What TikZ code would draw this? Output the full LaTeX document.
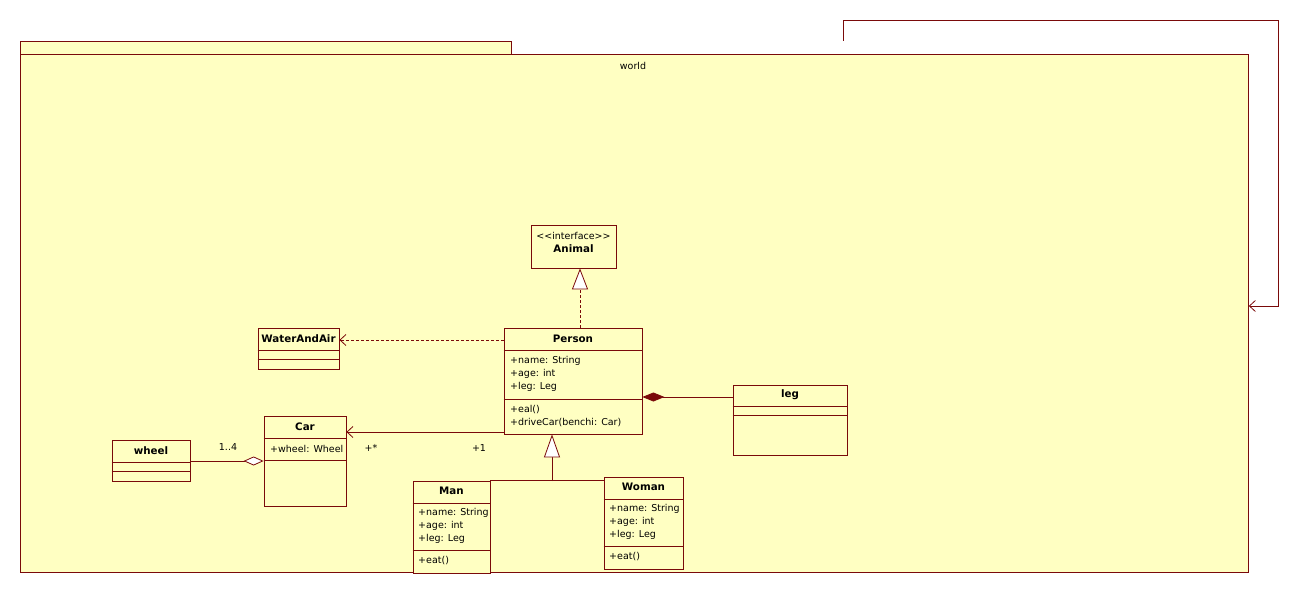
\documentclass[tikz,border=0pt]{standalone}
\usepackage{fontspec}
\setmainfont{DejaVu Sans}
\usetikzlibrary{arrows.meta,positioning}
\definecolor{umlline}{HTML}{7A0A0A}
\definecolor{umlfill}{HTML}{FFFFC2}
\tikzset{
  cls/.style={draw=umlline,line width=0.8pt,fill=umlfill,inner sep=0pt},
  ttl/.style={font=\fontsize{10.3}{12}\selectfont\bfseries,inner sep=0pt},
  att/.style={font=\fontsize{9.5}{11}\selectfont,inner sep=0pt,anchor=west},
  lbl/.style={font=\fontsize{9.5}{11}\selectfont,inner sep=0pt},
  sep/.style={umlline,line width=0.8pt},
  dep/.style={-{Straight Barb[length=6pt,width=11pt]},umlline,line width=0.8pt,dash pattern=on 3pt off 2pt},
  real/.style={-{Triangle[length=21pt,width=16pt,fill=white]},umlline,line width=0.8pt,dash pattern=on 3pt off 2pt},
  gen/.style={-{Triangle[length=23pt,width=16pt,fill=white]},umlline,line width=0.8pt},
  assoc/.style={-{Straight Barb[length=6pt,width=11pt]},umlline,line width=0.8pt},
  comp/.style={{Diamond[length=22pt,width=9pt,fill=umlline]}-,umlline,line width=0.8pt},
  aggr/.style={-{Diamond[length=20pt,width=9pt,fill=white]},umlline,line width=0.8pt}
}
\begin{document}
\begin{tikzpicture}[x=1pt,y=-1pt]
\useasboundingbox (0,0) rectangle (1299,594);
% package world
\node[cls,minimum width=491,minimum height=13,anchor=north west] (tab) at (20,41) {};
\node[cls,minimum width=1228,minimum height=518,anchor=north west] (world) at (20,54) {};
\node[lbl] (worldname) at (633,66) {world};
\coordinate (selfst) at (843,41);
\draw[assoc] (selfst) |- (1278,20) |- (world.east |- 0,306);

% interface
\node[cls,minimum width=85,minimum height=43] (Animal) at (573.5,246.5) {};
\node[lbl] (Animalst) at (573.5,236) {<\kern0pt<interface>\kern0pt>};
\node[ttl] (Animalt) at (573.5,249) {Animal};

% Person
\node[cls,minimum width=138,minimum height=106] (Person) at (573,381) {};
\node[ttl] (Persont) at (573,339) {Person};
\draw[sep] (Person.west |- 0,350) -- (Person.east |- 0,350);
\draw[sep] (Person.west |- 0,399) -- (Person.east |- 0,399);
\foreach \yy/\tx in {361/{+name: String},374/{+age: int},387/{+leg: Leg},410/{+eal()},423/{+driveCar(benchi: Car)}}
  \node[att] (pa\yy) at (510,\yy) {\tx};

% WaterAndAir
\node[cls,minimum width=81,minimum height=41] (WaterAndAir) at (298.5,348.5) {};
\node[ttl] (WaterAndAirt) at (298.5,339) {WaterAndAir};
\draw[sep] (WaterAndAir.west |- 0,350) -- (WaterAndAir.east |- 0,350);
\draw[sep] (WaterAndAir.west |- 0,359) -- (WaterAndAir.east |- 0,359);

% leg
\node[cls,minimum width=114,minimum height=70] (leg) at (790,420) {};
\node[ttl] (legt) at (790,395) {leg};
\draw[sep] (leg.west |- 0,406) -- (leg.east |- 0,406);
\draw[sep] (leg.west |- 0,415) -- (leg.east |- 0,415);

% Car
\node[cls,minimum width=82,minimum height=90] (Car) at (305,461) {};
\node[ttl] (Cart) at (305,427) {Car};
\draw[sep] (Car.west |- 0,438) -- (Car.east |- 0,438);
\node[att] (ca449) at (270,449) {+wheel: Wheel};
\draw[sep] (Car.west |- 0,460) -- (Car.east |- 0,460);

% wheel
\node[cls,minimum width=78,minimum height=41] (wheel) at (151,460.5) {};
\node[ttl] (wheelt) at (151,451) {wheel};
\draw[sep] (wheel.west |- 0,462) -- (wheel.east |- 0,462);
\draw[sep] (wheel.west |- 0,471) -- (wheel.east |- 0,471);

% Man
\node[cls,minimum width=77,minimum height=92] (Man) at (451.5,527) {};
\node[ttl] (Mant) at (451.5,491) {Man};
\draw[sep] (Man.west |- 0,503) -- (Man.east |- 0,503);
\draw[sep] (Man.west |- 0,550) -- (Man.east |- 0,550);
\foreach \yy/\tx in {513/{+name: String},526/{+age: int},539/{+leg: Leg},561/{+eat()}}
  \node[att] (ma\yy) at (418,\yy) {\tx};

% Woman
\node[cls,minimum width=79,minimum height=92] (Woman) at (643.5,523) {};
\node[ttl] (Womant) at (643.5,487) {Woman};
\draw[sep] (Woman.west |- 0,499) -- (Woman.east |- 0,499);
\draw[sep] (Woman.west |- 0,546) -- (Woman.east |- 0,546);
\foreach \yy/\tx in {509/{+name: String},522/{+age: int},535/{+leg: Leg},557/{+eat()}}
  \node[att] (wa\yy) at (609,\yy) {\tx};

% relations
\draw[real] ([xshift=7pt]Person.north) -- ([xshift=7pt]Person.north |- Animal.south);
\draw[dep] (Person.west |- 0,340) -- (WaterAndAir.east |- 0,340);
\draw[comp] (Person.east |- 0,397) -- (leg.west |- 0,397);
\draw[assoc] (Person.west |- 0,432) -- (Car.east |- 0,432);
\node[lbl] (multcar) at (371,448) {+*};
\node[lbl] (multperson) at (479,448) {+1};
\draw[aggr] (wheel.east |- 0,461) -- (Car.west |- 0,461);
\node[lbl] (multwheel) at (228,447) {1..4};
\coordinate (genj) at (552,481);
\draw[gen] (genj) -- (genj |- Person.south);
\draw[sep] (Man.north east) -- (Woman.west |- Man.north east);
\end{tikzpicture}
\end{document}
